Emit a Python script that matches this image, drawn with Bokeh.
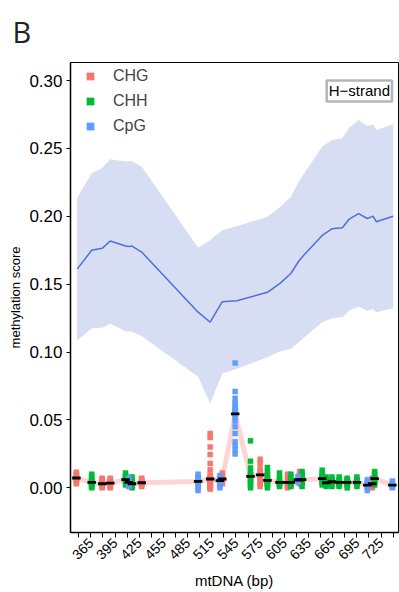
import numpy as np
from bokeh.plotting import figure
from bokeh.models import Range1d, FixedTicker, Legend, LegendItem, Label, NumeralTickFormatter
from bokeh.embed import file_html
from bokeh.resources import INLINE

# ---------------- data ----------------
x_major_ticks = [365, 395, 425, 455, 485, 515, 545, 575, 605, 635, 665, 695, 725]
x_minor_ticks = [350, 380, 410, 440, 470, 500, 530, 560, 590, 620, 650, 680, 710, 740]
y_ticks = [0.0, 0.05, 0.10, 0.15, 0.20, 0.25, 0.30]

# blue summary line with its band
line_x = [348, 366, 379, 389, 408, 412, 416, 428, 498, 513, 528, 546, 584, 600, 613,
          623, 629, 652, 664, 677, 685, 697, 708, 715, 719, 740]
line_mean = [0.1611, 0.1750, 0.1764, 0.1818, 0.1781, 0.1777, 0.1781, 0.1737, 0.1294, 0.1220,
             0.1371, 0.1378, 0.1440, 0.1508, 0.1579, 0.1671, 0.1713, 0.1859, 0.1908, 0.1916,
             0.1977, 0.2020, 0.1984, 0.2001, 0.1960, 0.2001]
line_upper = [0.2135, 0.2318, 0.2355, 0.2421, 0.2403, 0.2408, 0.2405, 0.2367, 0.1769, 0.1825,
              0.1898, 0.1927, 0.1996, 0.2070, 0.2143, 0.2257, 0.2312, 0.2513, 0.2562, 0.2575,
              0.2648, 0.2709, 0.2665, 0.2677, 0.2635, 0.2679]
line_lower = [0.1086, 0.1176, 0.1179, 0.1208, 0.1154, 0.1152, 0.1149, 0.1118, 0.0818, 0.0622,
              0.0842, 0.0878, 0.0961, 0.1007, 0.1025, 0.1074, 0.1105, 0.1220, 0.1250, 0.1257,
              0.1305, 0.1335, 0.1305, 0.1318, 0.1294, 0.1323]

CHG_sites = [347, 379, 389, 428, 513, 528, 575, 609, 624, 714]
CHG_values = [
    [0.003, 0.005, 0.006, 0.0065, 0.007, 0.0075, 0.008, 0.009, 0.010, 0.0115],
    [0.000, 0.001, 0.002, 0.003, 0.003, 0.004, 0.005, 0.006, 0.007],
    [0.000, 0.001, 0.002, 0.003, 0.0035, 0.004, 0.005, 0.006, 0.007],
    [0.001, 0.002, 0.003, 0.0035, 0.004, 0.005, 0.006, 0.007],
    [-0.001, 0.000, 0.001, 0.002, 0.003, 0.004, 0.005, 0.006, 0.006, 0.007, 0.008, 0.0097,
     0.0134, 0.018, 0.0245, 0.030, 0.037, 0.040],
    [0.003, 0.004, 0.005, 0.006, 0.007, 0.008, 0.009, 0.011],
    [0.001, 0.003, 0.005, 0.007, 0.009, 0.0095, 0.010, 0.012, 0.014, 0.018, 0.021],
    [0.000, 0.001, 0.002, 0.003, 0.004, 0.005, 0.006, 0.008, 0.010],
    [0.003, 0.004, 0.005, 0.0055, 0.006, 0.008, 0.010, 0.012],
    [0.000, 0.001, 0.002, 0.003, 0.004, 0.005, 0.007],
]

CHH_sites = [366, 408, 416, 563, 584, 599, 613, 627, 652, 657, 664, 673, 683, 695, 717]
CHH_values = [
    [0.000, 0.001, 0.002, 0.003, 0.004, 0.004, 0.005, 0.006, 0.008, 0.010],
    [0.002, 0.004, 0.005, 0.006, 0.006, 0.007, 0.008, 0.009, 0.011],
    [0.000, 0.001, 0.002, 0.003, 0.003, 0.004, 0.005, 0.006, 0.008],
    [0.000, 0.002, 0.004, 0.005, 0.006, 0.008, 0.009, 0.010, 0.012, 0.0146, 0.0195, 0.0346],
    [0.000, 0.002, 0.003, 0.004, 0.005, 0.0055, 0.006, 0.008, 0.010, 0.012, 0.015],
    [0.001, 0.002, 0.003, 0.004, 0.004, 0.005, 0.006, 0.008, 0.011],
    [0.001, 0.002, 0.003, 0.004, 0.004, 0.005, 0.006, 0.008, 0.010],
    [0.001, 0.003, 0.004, 0.005, 0.006, 0.006, 0.007, 0.008, 0.010, 0.012],
    [0.002, 0.004, 0.005, 0.006, 0.0065, 0.007, 0.008, 0.009, 0.011, 0.013],
    [0.001, 0.002, 0.003, 0.0035, 0.004, 0.005, 0.006, 0.008],
    [0.001, 0.003, 0.004, 0.005, 0.006, 0.008],
    [0.001, 0.002, 0.003, 0.004, 0.004, 0.005, 0.006, 0.008],
    [0.000, 0.002, 0.003, 0.004, 0.004, 0.005, 0.006, 0.007],
    [0.001, 0.002, 0.003, 0.004, 0.004, 0.005, 0.006, 0.008],
    [0.002, 0.004, 0.005, 0.0065, 0.007, 0.008, 0.010, 0.012],
]

CpG_sites = [412, 498, 525, 544, 622, 708, 739]
CpG_values = [
    [0.001, 0.002, 0.003, 0.004, 0.004, 0.005, 0.006, 0.007],
    [-0.002, 0.000, 0.002, 0.003, 0.0045, 0.005, 0.006, 0.007, 0.008, 0.010],
    [0.000, 0.002, 0.003, 0.005, 0.0055, 0.006, 0.007, 0.009],
    [0.025, 0.028, 0.031, 0.034, 0.040, 0.045, 0.049, 0.052, 0.054, 0.055, 0.056, 0.057,
     0.059, 0.061, 0.063, 0.066, 0.071, 0.092],
    [0.004, 0.006, 0.0085],
    [-0.002, 0.000, 0.001, 0.002, 0.003, 0.004, 0.006],
    [0.000, 0.001, 0.002, 0.002, 0.003, 0.005],
]

contexts = ["CHG", "CHH", "CpG"]
colors = {"CHG": "#F8766D", "CHH": "#00BA38", "CpG": "#619CFF"}
groups = {"CHG": (CHG_sites, CHG_values), "CHH": (CHH_sites, CHH_values),
          "CpG": (CpG_sites, CpG_values)}

FONT = "Liberation Sans"

# ---------------- figure ----------------
p = figure(width=399, height=592, output_backend="svg", toolbar_location=None,
           x_range=Range1d(339.7, 746.6), y_range=Range1d(-0.0329, 0.3133),
           min_border_left=70, min_border_right=1, min_border_top=62, min_border_bottom=57)
p.grid.visible = False
p.background_fill_color = "white"
p.border_fill_color = "white"
p.outline_line_color = "black"
p.outline_line_width = 1

p.title.text = "B"
p.title.text_font = "Open Sans"
p.title.text_font_size = "29px"
p.title.text_font_style = "normal"
p.title.text_color = "#222222"
p.title.align = "left"
p.title.vertical_align = "top"
p.title.offset = -58
p.title.standoff = 20

# band and blue line
p.varea(x=line_x, y1=line_lower, y2=line_upper, fill_color="#D7DDF3", fill_alpha=1.0)
p.line(line_x, line_mean, line_color="#4F6FD8", line_width=1.5)

# medians
med_x, med_y = [], []
for c in contexts:
    sites, vals = groups[c]
    for s, v in zip(sites, vals):
        med_x.append(s)
        med_y.append(float(np.median(v)))
order = np.argsort(med_x)
mx = [med_x[i] for i in order]
my = [med_y[i] for i in order]
p.line(mx, my, line_color="#F8766D", line_alpha=0.3, line_width=5)

renderers = {}
for c in contexts:
    sites, vals = groups[c]
    xs, ys = [], []
    for s, v in zip(sites, vals):
        xs.extend([s] * len(v))
        ys.extend(v)
    renderers[c] = p.scatter(xs, ys, marker="square", size=5, fill_color=colors[c],
                             line_color=colors[c], line_width=0.5)

p.scatter(mx, my, marker="dash", size=8.5, line_color="black", line_width=2.8)

# axes
xa = p.xaxis[0]
xa.ticker = FixedTicker(ticks=x_major_ticks, minor_ticks=x_minor_ticks)
xa.major_label_orientation = np.pi / 4
xa.major_label_text_font = FONT
xa.major_label_text_font_size = "14px"
xa.major_label_text_color = "black"
xa.major_label_standoff = 3
xa.major_tick_out = 5
xa.major_tick_in = 0
xa.minor_tick_out = 5
xa.minor_tick_in = 0
xa.minor_tick_line_color = "black"
xa.major_tick_line_color = "black"
xa.axis_line_width = 1.5
xa.axis_label = "mtDNA (bp)"
xa.axis_label_text_font = FONT
xa.axis_label_text_font_size = "15px"
xa.axis_label_text_font_style = "normal"
xa.axis_label_text_color = "black"
xa.axis_label_standoff = 5

ya = p.yaxis[0]
ya.ticker = FixedTicker(ticks=y_ticks, minor_ticks=[])
ya.formatter = NumeralTickFormatter(format="0.00")
ya.major_label_text_font = FONT
ya.major_label_text_font_size = "17px"
ya.major_label_text_color = "black"
ya.major_label_standoff = 4
ya.major_tick_out = 4
ya.major_tick_in = 0
ya.minor_tick_out = 0
ya.major_tick_line_color = "black"
ya.axis_line_width = 1.5
ya.axis_label = "methylation score"
ya.axis_label_text_font = FONT
ya.axis_label_text_font_size = "13px"
ya.axis_label_text_font_style = "normal"
ya.axis_label_text_color = "black"
ya.axis_label_standoff = 3

legend = Legend(items=[LegendItem(label=c, renderers=[renderers[c]]) for c in contexts],
                location="top_left")
legend.background_fill_alpha = 0
legend.border_line_color = None
legend.label_text_font = FONT
legend.label_text_font_size = "16px"
legend.glyph_width = 30
legend.glyph_height = 18
legend.label_height = 18
legend.label_standoff = 8
legend.spacing = 7
legend.margin = 5
legend.padding = 12
p.add_layout(legend)

lab = Label(x=738.5, y=0.3001, text="H\u2212strand", text_align="right", text_baseline="top",
            text_font=FONT, text_font_size="15px", text_color="black",
            background_fill_color="white", border_line_color="#B5B5B5", border_line_width=2.5,
            padding=2)
p.add_layout(lab)

open("out.html", "w").write(file_html(p, INLINE))
